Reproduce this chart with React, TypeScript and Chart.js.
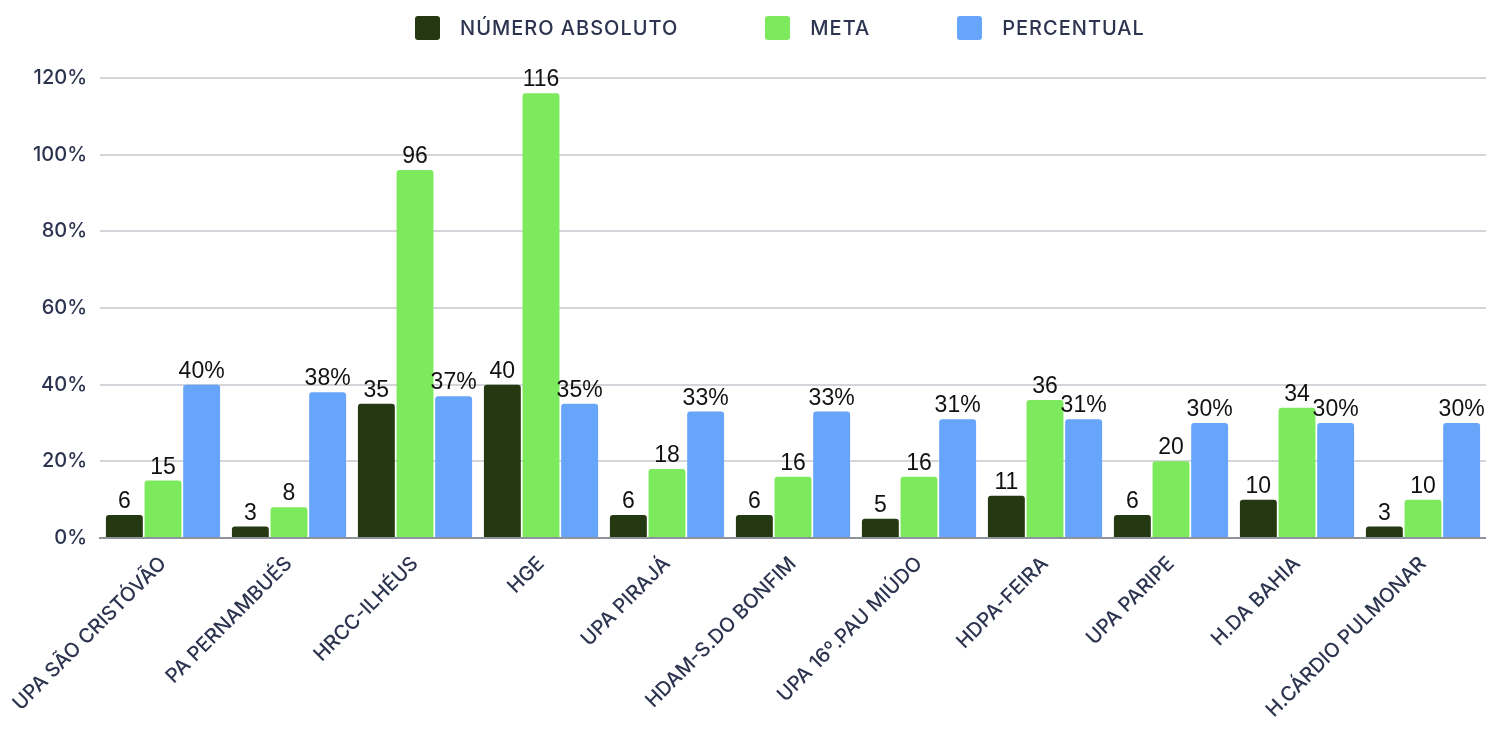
import React, { useEffect, useRef } from "react";
import { Chart, registerables } from "chart.js";

Chart.register(...registerables);

const categories = [
  "UPA SÃO CRISTÓVÃO",
  "PA PERNAMBUÉS",
  "HRCC-ILHÉUS",
  "HGE",
  "UPA PIRAJÁ",
  "HDAM-S.DO BONFIM",
  "UPA 16º.PAU MIÚDO",
  "HDPA-FEIRA",
  "UPA PARIPE",
  "H.DA BAHIA",
  "H.CÁRDIO PULMONAR",
];
const numeroAbsoluto = [6, 3, 35, 40, 6, 6, 5, 11, 6, 10, 3];
const meta = [15, 8, 96, 116, 18, 16, 16, 36, 20, 34, 10];
const percentual = [40, 38, 37, 35, 33, 33, 31, 31, 30, 30, 30];
const seriesNames = ["NÚMERO ABSOLUTO", "META", "PERCENTUAL"];
const seriesColors = ["#243911", "#7dea5e", "#66a5f9"];
const yTicks = [0, 20, 40, 60, 80, 100, 120];

const TEXT_COLOR = "#2c3450";
const AXIS_FONT = "Inter";

const labelPlugin = {
  id: "barLabels",
  afterDatasetsDraw(chart: any) {
    const ctx = chart.ctx;
    ctx.save();
    ctx.font = "23px 'Liberation Sans', Arial, sans-serif";
    ctx.fillStyle = "#111111";
    ctx.textAlign = "center";
    ctx.textBaseline = "alphabetic";
    chart.data.datasets.forEach((ds: any, di: number) => {
      const metaInfo = chart.getDatasetMeta(di);
      metaInfo.data.forEach((el: any, i: number) => {
        const v = ds.data[i];
        const txt = di === 2 ? `${v}%` : `${v}`;
        ctx.fillText(txt, el.x, el.y - 7);
      });
    });
    ctx.restore();
  },
};

export default function App() {
  const canvasRef = useRef<HTMLCanvasElement | null>(null);

  useEffect(() => {
    if (!canvasRef.current) return;
    const chart = new Chart(canvasRef.current, {
      type: "bar",
      data: {
        labels: categories,
        datasets: [
          { label: seriesNames[0], data: numeroAbsoluto, backgroundColor: seriesColors[0] },
          { label: seriesNames[1], data: meta, backgroundColor: seriesColors[1] },
          { label: seriesNames[2], data: percentual, backgroundColor: seriesColors[2] },
        ].map((d) => ({
          ...d,
          borderRadius: { topLeft: 3, topRight: 3, bottomLeft: 0, bottomRight: 0 },
          borderSkipped: false,
          categoryPercentage: 0.92,
          barPercentage: 0.955,
        })),
      },
      options: {
        animation: false,
        responsive: false,
        maintainAspectRatio: false,
        layout: { padding: { top: 78, right: 0, left: 0, bottom: 0 } },
        plugins: {
          legend: { display: false },
          tooltip: { enabled: false },
        },
        scales: {
          x: {
            grid: { display: false },
            border: { display: true, color: "#8f939b", width: 2 },
            ticks: {
              color: TEXT_COLOR,
              font: { family: AXIS_FONT, size: 20, weight: "500" },
              minRotation: 45,
              maxRotation: 45,
              autoSkip: false,
              padding: 6,
            },
            afterFit: (s: any) => {
              s.height = 202;
            },
          },
          y: {
            min: 0,
            max: 120,
            afterBuildTicks: (s: any) => {
              s.ticks = yTicks.map((v) => ({ value: v }));
            },
            grid: { color: "#d3d5db", lineWidth: 2, drawTicks: false },
            border: { display: false },
            ticks: {
              color: TEXT_COLOR,
              font: { family: AXIS_FONT, size: 20, weight: "500" },
              padding: 13,
              callback: (v: any) => `${v}%`,
            },
            afterFit: (s: any) => {
              s.width = 100;
            },
          },
        },
      },
      plugins: [labelPlugin],
    });
    return () => chart.destroy();
  }, []);

  return (
    <div
      style={{
        position: "fixed",
        left: 0,
        top: 0,
        width: 1486,
        height: 740,
        background: "#ffffff",
      }}
    >
      <div
        style={{
          position: "absolute",
          left: 415,
          top: 15,
          height: 25,
          display: "flex",
          alignItems: "center",
          fontFamily: AXIS_FONT,
          fontWeight: 500,
          fontSize: 20,
          letterSpacing: 1,
          color: TEXT_COLOR,
          whiteSpace: "nowrap",
        }}
      >
        {seriesNames.map((n, i) => (
          <div
            key={n}
            style={{ display: "flex", alignItems: "center", marginLeft: i === 0 ? 0 : 87 }}
          >
            <span
              style={{
                display: "inline-block",
                width: 25,
                height: 24,
                borderRadius: 3,
                background: seriesColors[i],
                marginRight: 20,
              }}
            />
            <span>{n}</span>
          </div>
        ))}
      </div>
      <canvas ref={canvasRef} width={1486} height={740} />
    </div>
  );
}
